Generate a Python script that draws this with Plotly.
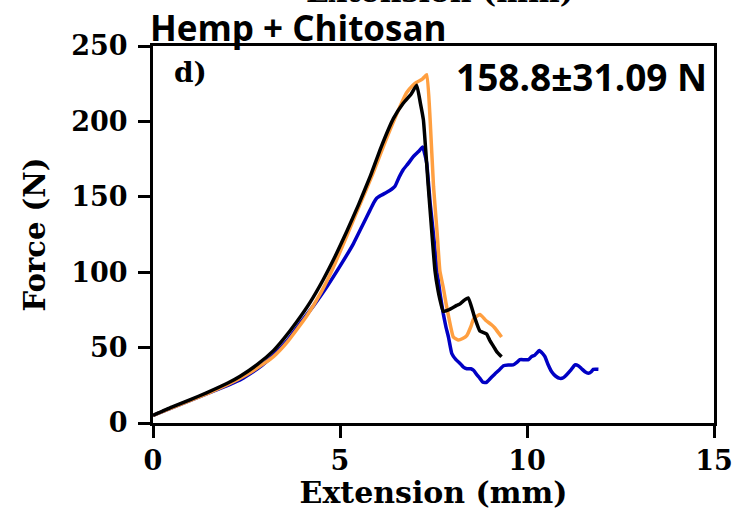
import plotly.graph_objects as go

# ---- data ----
black_x = [0, 0.5, 1.0, 1.43, 2.0, 2.33, 2.8, 3.22, 3.5, 3.84, 4.2, 4.55, 4.9, 5.18, 5.5, 5.8, 6.1, 6.43, 6.69, 6.9, 7.05,
           7.15, 7.23, 7.36, 7.45, 7.54, 7.62, 7.67, 7.76, 7.9, 8.12, 8.21, 8.3, 8.43, 8.6, 8.74, 8.92, 9.0, 9.1, 9.2, 9.32]
black_y = [5, 10.5, 15.5, 20, 26.5, 31, 39, 48, 56, 67, 80, 95, 112, 127, 145, 163, 183, 202, 212, 218, 224,
           212, 201, 157, 128, 101, 88, 82, 74, 75, 78, 79, 81, 83, 70, 61, 59, 55, 51, 47, 44]

orange_x = [0, 0.5, 1.0, 1.5, 2.0, 2.5, 3.0, 3.22, 3.6, 4.11, 4.5, 4.8, 5.18, 5.5, 5.89, 6.2, 6.5, 6.78, 6.95, 7.05, 7.2, 7.32,
            7.41, 7.5, 7.6, 7.67, 7.76, 7.83, 7.9, 8.03, 8.16, 8.28, 8.39, 8.5, 8.57, 8.74, 8.9, 9.06, 9.14, 9.32]
orange_y = [5, 10, 15, 20, 25.5, 32, 40, 44, 54, 71, 87, 102, 124, 143, 166, 186, 204, 219, 224, 226, 228, 231,
            201, 157, 125, 101, 90, 80, 71, 57, 55, 56, 58, 64, 69, 72, 68, 65, 63, 57]

blue_x = [0, 0.5, 1.0, 1.5, 2.0, 2.33, 2.8, 3.22, 3.6, 3.93, 4.3, 4.64, 5.0, 5.36, 5.6, 5.8, 5.9, 5.98, 6.1, 6.25, 6.38,
          6.47, 6.58, 6.69, 6.82, 6.96, 7.1, 7.21, 7.27, 7.32, 7.41, 7.5, 7.6, 7.68, 7.76, 7.83, 7.9, 7.99, 8.1, 8.21,
          8.3, 8.39, 8.5, 8.57, 8.66, 8.74, 8.82, 8.92, 9.0, 9.14, 9.25, 9.37, 9.5, 9.63, 9.72, 9.81, 9.92, 10.04, 10.12,
          10.21, 10.33, 10.42, 10.48, 10.56, 10.66, 10.77, 10.88, 10.97, 11.06, 11.17, 11.28, 11.37, 11.46, 11.55, 11.64,
          11.72, 11.77, 11.91]
blue_y = [5, 10, 15, 20, 25, 28.5, 36, 45, 55, 66, 78, 90, 104, 119, 131, 141, 146, 149, 151, 153, 155,
          157, 163, 168, 172, 176.6, 180, 183, 178, 172, 146, 125, 100, 85, 72.7, 64, 57, 46, 42, 39.5,
          37, 36, 36, 35, 32, 29.6, 27, 27, 29, 32.5, 35, 38, 38.5, 38.5, 40, 42, 42, 42, 44,
          45, 48, 46, 44, 39, 34, 31, 29.6, 30, 32, 35, 38.5, 38, 36, 34, 33,
          34, 35.6, 35.6]

x_ticks = [0, 5, 10, 15]
y_ticks = [0, 50, 100, 150, 200, 250]

title_text = "Hemp + Chitosan"
panel_label = "d)"
stat_text = "158.8±31.09 N"
x_title = "Extension (mm)"
y_title = "Force (N)"

ORANGE = "#FF9F40"
BLUE = "#0000C4"
SERIF = "DejaVu Serif, Liberation Serif, serif"
SANS = "Open Sans, Noto Sans, sans-serif"

fig = go.Figure()
line_opts = dict(width=3.5, shape="spline", smoothing=0.4)
fig.add_trace(go.Scatter(x=blue_x, y=blue_y, mode="lines", line=dict(color=BLUE, **line_opts), showlegend=False))
fig.add_trace(go.Scatter(x=orange_x, y=orange_y, mode="lines", line=dict(color=ORANGE, **line_opts), showlegend=False))
fig.add_trace(go.Scatter(x=black_x, y=black_y, mode="lines", line=dict(color="black", **line_opts), showlegend=False))

axis_common = dict(
    showgrid=False, zeroline=False, showline=True, linecolor="black", linewidth=3,
    mirror=True, ticks="outside", ticklen=12, tickwidth=3, tickcolor="black", automargin=False,
    tickfont=dict(family=SERIF, size=27, color="black", weight="bold"),
)

fig.update_layout(
    width=748, height=510,
    margin=dict(l=153, r=34, t=46, b=87),
    paper_bgcolor="white", plot_bgcolor="white",
    xaxis=dict(range=[0, 15], tickvals=x_ticks, **axis_common,
               title=dict(text=x_title, font=dict(family=SERIF, size=30, color="black", weight="bold"), standoff=6)),
    yaxis=dict(range=[0, 250], tickvals=y_ticks, ticklabelstandoff=5, **axis_common,
               title=dict(text=y_title, font=dict(family=SERIF, size=29, color="black", weight="bold"), standoff=18)),
)

# cut-off title from the panel above
fig.add_annotation(text=x_title, xref="paper", yref="paper", x=0.5116, y=1.094,
                   xanchor="center", yanchor="bottom", showarrow=False,
                   font=dict(family=SERIF, size=30, color="black", weight="bold"))
fig.add_annotation(text=title_text, xref="paper", yref="paper", x=-0.009, y=0.982,
                   xanchor="left", yanchor="bottom", showarrow=False,
                   font=dict(family=SANS, size=35, color="black", weight="bold"))
fig.add_annotation(text=panel_label, xref="paper", yref="paper", x=0.034, y=0.931,
                   xanchor="left", yanchor="middle", showarrow=False,
                   font=dict(family=SERIF, size=28, color="black", weight="bold"))
fig.add_annotation(text=stat_text, xref="paper", yref="paper", x=0.991, y=0.918,
                   xanchor="right", yanchor="middle", showarrow=False,
                   font=dict(family=SANS, size=37, color="black", weight="bold"))

fig.write_html("out.html", config={"displayModeBar": False},
               post_script="document.body.style.margin='0';")
